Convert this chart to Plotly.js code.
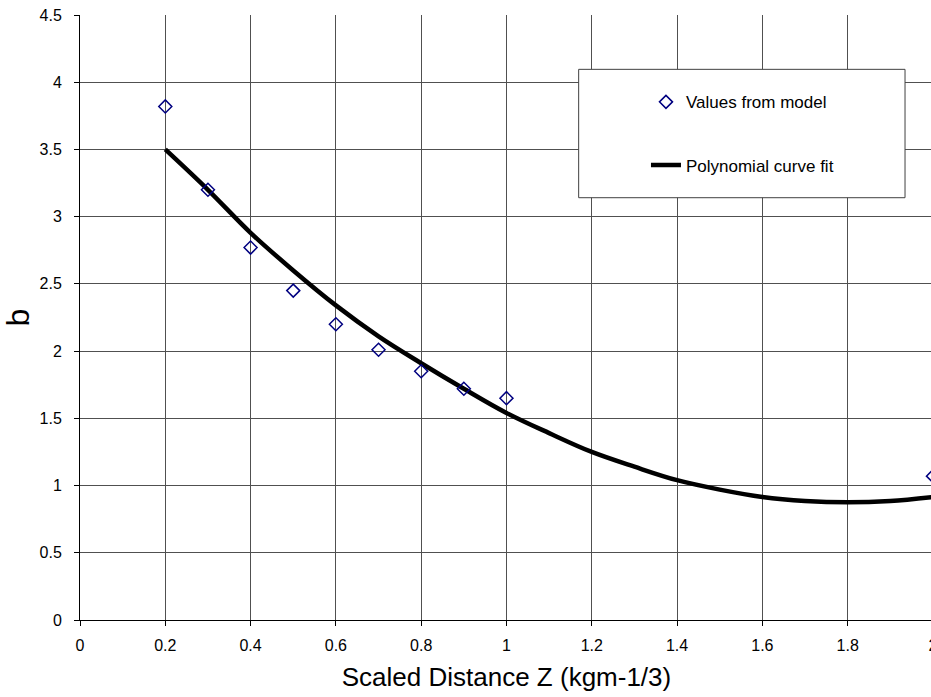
<!DOCTYPE html>
<html>
<head>
<meta charset="utf-8">
<script src="https://cdn.plot.ly/plotly-3.0.1.min.js"></script>
<style>
html, body { margin: 0; padding: 0; overflow: hidden; background: #fff; }
#chart { width: 936px; height: 697px; }
</style>
</head>
<body>
<div id="chart"></div>
<script>
// Values from model (open diamonds)
const modelZ = [0.2, 0.3, 0.4, 0.5, 0.6, 0.7, 0.8, 0.9, 1.0, 2.0];
const modelB = [3.82, 3.20, 2.77, 2.45, 2.20, 2.01, 1.85, 1.72, 1.65, 1.07];

// Polynomial curve fit
const fitZ = [0.2, 0.3, 0.4, 0.5, 0.6, 0.7, 0.8, 0.9, 1.0, 1.1, 1.2, 1.3, 1.4, 1.5, 1.6, 1.7, 1.8, 1.9, 2.0];
const fitB = [3.50, 3.20, 2.88, 2.60, 2.34, 2.11, 1.91, 1.72, 1.54, 1.39, 1.25, 1.14, 1.04, 0.97, 0.915, 0.885, 0.875, 0.885, 0.915];

const seriesNames = ['Values from model', 'Polynomial curve fit'];
const xTickVals = [0, 0.2, 0.4, 0.6, 0.8, 1, 1.2, 1.4, 1.6, 1.8, 2];
const xTickText = ['0', '0.2', '0.4', '0.6', '0.8', '1', '1.2', '1.4', '1.6', '1.8', '2'];
const xTitle = 'Scaled Distance Z (kgm-1/3)';
const yTitle = 'b';

const FONT = 'Liberation Sans, Arial, sans-serif';

const traces = [
  {
    x: fitZ, y: fitB, type: 'scatter', mode: 'lines',
    name: seriesNames[1], legend: 'legend2',
    line: { color: '#000000', width: 4.5, shape: 'spline', smoothing: 1 },
    hoverinfo: 'x+y'
  },
  {
    x: modelZ, y: modelB, type: 'scatter', mode: 'markers',
    name: seriesNames[0], legend: 'legend',
    marker: { symbol: 'diamond-open', size: 10, color: '#000080', line: { color: '#000080', width: 1.5 } },
    hoverinfo: 'x+y'
  }
];

const layout = {
  width: 936, height: 697,
  margin: { l: 80, r: 3, t: 15, b: 77 },
  paper_bgcolor: '#ffffff', plot_bgcolor: '#ffffff',
  font: { family: FONT, color: '#000000' },
  xaxis: {
    range: [0, 2.0001], tickmode: 'array',
    tickvals: xTickVals, ticktext: xTickText,
    ticklabeloverflow: 'allow',
    showgrid: true, gridcolor: '#505050', gridwidth: 1,
    zeroline: false, showline: true, linecolor: '#000000', linewidth: 1,
    ticks: 'outside', ticklen: 5, tickcolor: '#000000',
    ticklabelstandoff: 6,
    tickfont: { family: FONT, size: 16, color: '#000000' },
    title: { text: xTitle, font: { family: FONT, size: 26, color: '#000000' }, standoff: 14 },
    fixedrange: true
  },
  yaxis: {
    range: [0, 4.5], dtick: 0.5, tick0: 0,
    showgrid: true, gridcolor: '#505050', gridwidth: 1,
    zeroline: false, showline: true, linecolor: '#000000', linewidth: 1,
    ticks: 'outside', ticklen: 5, tickcolor: '#000000',
    ticklabelstandoff: 9,
    tickfont: { family: FONT, size: 16, color: '#000000' },
    title: { text: yTitle, font: { family: FONT, size: 32, color: '#000000' }, standoff: 2 },
    fixedrange: true
  },
  shapes: [
    {
      type: 'rect', xref: 'paper', yref: 'paper',
      x0: 0.5846, x1: 0.9672, y0: 0.698, y1: 0.9102,
      fillcolor: '#ffffff', line: { color: '#404040', width: 1 }, layer: 'above'
    }
  ],
  legend: {
    x: 0.6635, xanchor: 'left', y: 0.8557, yanchor: 'middle',
    bgcolor: 'rgba(0,0,0,0)', borderwidth: 0,
    font: { family: FONT, size: 17, color: '#000000' }
  },
  legend2: {
    x: 0.6635, xanchor: 'left', y: 0.7512, yanchor: 'middle',
    bgcolor: 'rgba(0,0,0,0)', borderwidth: 0,
    font: { family: FONT, size: 17, color: '#000000' }
  },
  showlegend: true
};

Plotly.newPlot('chart', traces, layout, { displayModeBar: false, staticPlot: true });
</script>
</body>
</html>
